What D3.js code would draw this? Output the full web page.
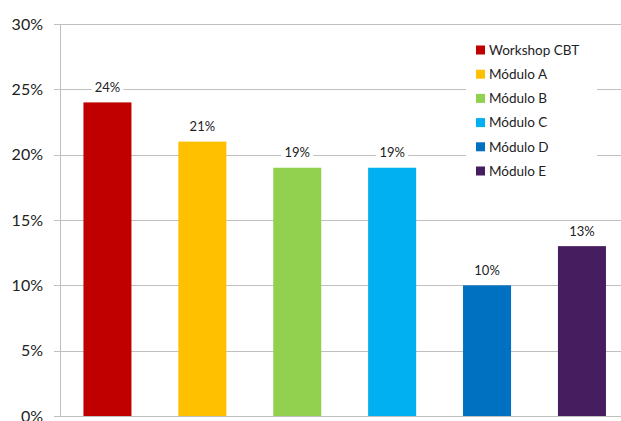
<!DOCTYPE html>
<html><head><meta charset="utf-8">
<script src="https://cdnjs.cloudflare.com/ajax/libs/d3/7.8.5/d3.min.js"></script>
<style>body{margin:0;background:#fff}svg{display:block}</style>
</head><body>
<script>
const categories = ["Workshop CBT","Módulo A","Módulo B","Módulo C","Módulo D","Módulo E"];
const values = [0.24,0.21,0.19,0.19,0.10,0.13];
const colors = ["#C00000","#FFC000","#92D050","#00B0F0","#0070C0","#461D5E"];
const yTicks = [0,0.05,0.10,0.15,0.20,0.25,0.30];

const W=621,H=421;
const svg=d3.select("body").append("svg").attr("width",W).attr("height",H);
const font="Lato, 'Open Sans', sans-serif";
const x=d3.scaleBand().domain(categories).range([60,629.4]).paddingInner(0.494).paddingOuter(0.247);
const y=d3.scaleLinear().domain([0,0.30]).range([416,24]);

// gridlines
svg.append("g").selectAll("line").data(yTicks).join("line")
  .attr("x1",54).attr("x2",W).attr("y1",d=>Math.round(y(d))+0.5).attr("y2",d=>Math.round(y(d))+0.5)
  .attr("stroke","#bfbfbf").attr("stroke-width",1);
// y axis line
svg.append("line").attr("x1",60.5).attr("x2",60.5).attr("y1",24).attr("y2",416).attr("stroke","#bfbfbf");

// tick labels
svg.append("g").selectAll("text").data(yTicks).join("text")
  .attr("x",43).attr("y",d=>y(d)).attr("dy","0.36em").attr("text-anchor","end")
  .attr("font-family",font).attr("font-size",16).attr("fill","#222")
  .text(d=>d3.format(".0%")(d));

// bars
svg.append("g").selectAll("rect").data(values).join("rect")
  .attr("x",(d,i)=>x(categories[i])).attr("width",x.bandwidth())
  .attr("y",d=>y(d)).attr("height",d=>y(0)-y(d)).attr("fill",(d,i)=>colors[i]);

// data labels with white background
const lg=svg.append("g").selectAll("g").data(values).join("g")
  .attr("transform",(d,i)=>`translate(${x(categories[i])+x.bandwidth()/2},${y(d)-15})`);
lg.append("rect").attr("x",-16).attr("y",-9).attr("width",32).attr("height",18).attr("fill","#fff");
lg.append("text").attr("text-anchor","middle").attr("dy","0.36em")
  .attr("font-family",font).attr("font-size",13).attr("fill","#222")
  .text(d=>d3.format(".0%")(d));

// legend
const leg=svg.append("g");
leg.append("rect").attr("x",466).attr("y",36).attr("width",131).attr("height",148).attr("fill","#fff");
const li=leg.selectAll("g").data(categories).join("g")
  .attr("transform",(d,i)=>`translate(476,${50+i*24.2})`);
li.append("rect").attr("x",0).attr("y",-4.5).attr("width",9).attr("height",9).attr("fill",(d,i)=>colors[i]);
li.append("text").attr("x",13).attr("dy","0.36em").attr("font-family",font).attr("font-size",13.5)
  .attr("fill","#222").text(d=>d);
</script>
</body></html>
